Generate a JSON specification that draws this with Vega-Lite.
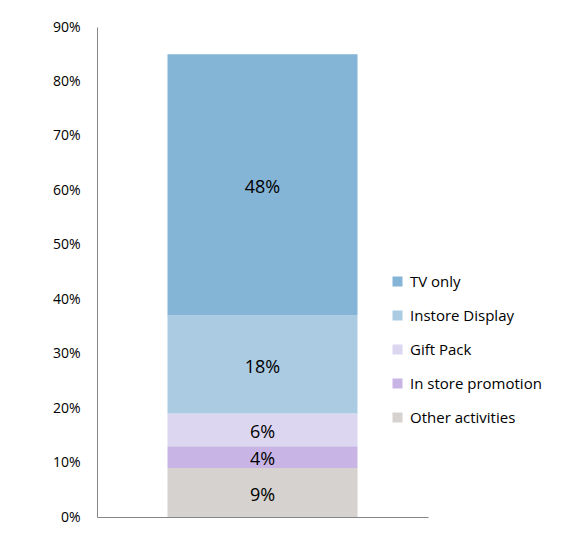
{
  "$schema": "https://vega.github.io/schema/vega-lite/v6.json",
  "width": 331,
  "height": 490,
  "autosize": "none",
  "padding": {"left": 97, "top": 27, "right": 137, "bottom": 29},
  "background": "white",
  "config": {
    "view": {"stroke": null},
    "font": "Open Sans"
  },
  "data": {
    "values": [
      {"group": "A", "category": "Other activities", "value": 0.09, "rank": 1},
      {"group": "A", "category": "In store promotion", "value": 0.04, "rank": 2},
      {"group": "A", "category": "Gift Pack", "value": 0.06, "rank": 3},
      {"group": "A", "category": "Instore Display", "value": 0.18, "rank": 4},
      {"group": "A", "category": "TV only", "value": 0.48, "rank": 5}
    ]
  },
  "transform": [
    {"stack": "value", "groupby": ["group"], "sort": [{"field": "rank", "order": "ascending"}], "as": ["lo", "hi"]}
  ],
  "encoding": {
    "x": {
      "field": "group",
      "type": "nominal",
      "scale": {"paddingInner": 0, "paddingOuter": 0.371},
      "axis": {"title": null, "labels": false, "ticks": false, "domainColor": "#868686", "domainWidth": 1}
    }
  },
  "layer": [
    {
      "mark": {"type": "bar"},
      "encoding": {
        "y": {
          "field": "lo",
          "type": "quantitative",
          "scale": {"domain": [0, 0.9], "nice": false},
          "axis": {
            "title": null,
            "format": ".0%",
            "values": [0, 0.1, 0.2, 0.3, 0.4, 0.5, 0.6, 0.7, 0.8, 0.9],
            "grid": false,
            "ticks": false,
            "labelPadding": 17,
            "labelFontSize": 14,
            "labelColor": "#000000",
            "domainColor": "#868686",
            "domainWidth": 1
          }
        },
        "y2": {"field": "hi"},
        "color": {
          "field": "category",
          "type": "nominal",
          "scale": {
            "domain": ["TV only", "Instore Display", "Gift Pack", "In store promotion", "Other activities"],
            "range": ["#84b4d6", "#abcbe3", "#dcd6f0", "#c8b5e6", "#d6d2cf"]
          },
          "legend": {
            "title": null,
            "orient": "none",
            "legendX": 293,
            "legendY": 247,
            "symbolType": "square",
            "symbolSize": 100,
            "symbolStrokeWidth": 0,
            "labelFontSize": 15,
            "labelColor": "#000000",
            "labelOffset": 5,
            "rowPadding": 18
          }
        }
      }
    },
    {
      "mark": {
        "type": "text",
        "fontSize": 18,
        "color": "#000000",
        "baseline": "middle",
        "align": "center",
        "yOffset": {"expr": "(scale('y', datum.hi) - scale('y', datum.lo)) / 2 + 3"}
      },
      "encoding": {
        "y": {"field": "lo", "type": "quantitative"},
        "text": {"field": "value", "type": "quantitative", "format": ".0%"}
      }
    }
  ]
}
